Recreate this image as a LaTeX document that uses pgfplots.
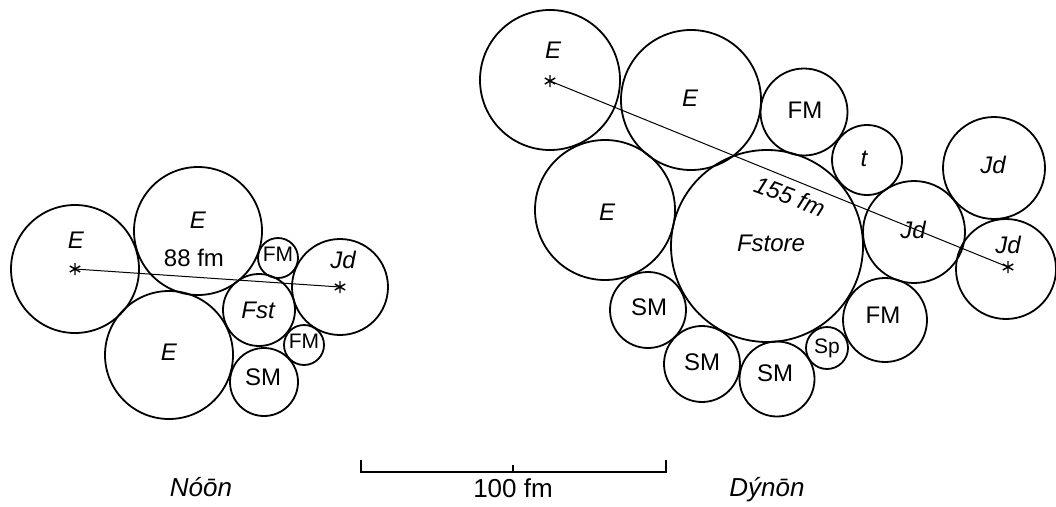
\documentclass[border=0pt]{standalone}
\usepackage{pgfplots}
\pgfplotsset{compat=1.18}
\usepackage{pgfplotstable}
\usepackage{fontspec}
\setmainfont{Liberation Sans}

\tikzset{
  lbl/.style={font=\fontsize{24}{28}\selectfont, text height=0.716em, text depth=0pt, inner sep=0pt},
  ilbl/.style={lbl, font=\fontsize{24}{28}\selectfont\itshape},
  slbl/.style={lbl, font=\fontsize{21}{25}\selectfont}}

\pgfplotstableread{
x y r
75 269 64
198 231 64
169 355 64
278 258 20
340 287 48
259 310 36
304 345 20
264 382 34
550 80 70
691 100 70
804 112 43.5
867 160 35
994 168 51
914 232 51
1006 269 50
605 210 70
767 246 96
648 310 38
702 364 38
777 379 37.5
827 348 21
885 320 42
}\circles

\begin{document}
\begin{tikzpicture}
\begin{axis}[name=ax, scale only axis, width=1056pt, height=506pt,
  xmin=0, xmax=1056, ymin=0, ymax=506, y dir=reverse, hide axis, clip=false]
\addplot[scatter, only marks, mark=o,
  scatter/use mapped color={draw=black},
  mark options={line width=1.8pt},
  visualization depends on={\thisrow{r} \as \rad},
  scatter/@pre marker code/.append style={/tikz/mark size=\rad pt}]
  table[x=x, y=y] {\circles};
% distance lines
\addplot[black, line width=1pt, mark=asterisk, mark size=6pt, mark options={line width=1.4pt}]
  coordinates {(75,269) (340,287)};
\addplot[black, line width=1pt, mark=asterisk, mark size=6pt, mark options={line width=1.4pt}]
  coordinates {(550,81) (1008,267)};
% scale bar
\addplot[black, line width=1.8pt] coordinates {(361,460) (361,472) (666,472) (666,460)};
\addplot[black, line width=1.8pt] coordinates {(513,465) (513,472)};
% left labels
\node[ilbl] at (axis cs:76,245) {E};
\node[ilbl] at (axis cs:198,225) {E};
\node[lbl] at (axis cs:194,263) {88 fm};
\node[ilbl] at (axis cs:169,357) {E};
\node[slbl] at (axis cs:278,258) {FM};
\node[ilbl] at (axis cs:343,265) {Jd};
\node[ilbl] at (axis cs:258,315) {Fst};
\node[slbl] at (axis cs:304,345) {FM};
\node[lbl] at (axis cs:263,382) {SM};
% right labels
\node[ilbl] at (axis cs:553,55) {E};
\node[ilbl] at (axis cs:690,103) {E};
\node[lbl] at (axis cs:805,115) {FM};
\node[ilbl] at (axis cs:864,163) {t};
\node[ilbl] at (axis cs:993,170) {Jd};
\node[ilbl, rotate=-21] at (axis cs:788,201) {155 fm};
\node[ilbl] at (axis cs:913,235) {Jd};
\node[ilbl] at (axis cs:1008,250) {Jd};
\node[ilbl] at (axis cs:607,217) {E};
\node[ilbl] at (axis cs:771,248) {Fstore};
\node[lbl] at (axis cs:649,312) {SM};
\node[lbl] at (axis cs:702,367) {SM};
\node[lbl] at (axis cs:775,378) {SM};
\node[slbl] at (axis cs:827,350) {Sp};
\node[lbl] at (axis cs:883,320) {FM};
% bottom texts
\node[ilbl, font=\fontsize{26}{30}\selectfont\itshape] at (axis cs:201,493) {Nóōn};
\node[lbl, font=\fontsize{26}{30}\selectfont] at (axis cs:513,494) {100 fm};
\node[ilbl, font=\fontsize{26}{30}\selectfont\itshape] at (axis cs:767,493) {Dýnōn};
\end{axis}
\pgfresetboundingbox
\path[use as bounding box] (ax.south west) rectangle (ax.north east);
\end{tikzpicture}
\end{document}
